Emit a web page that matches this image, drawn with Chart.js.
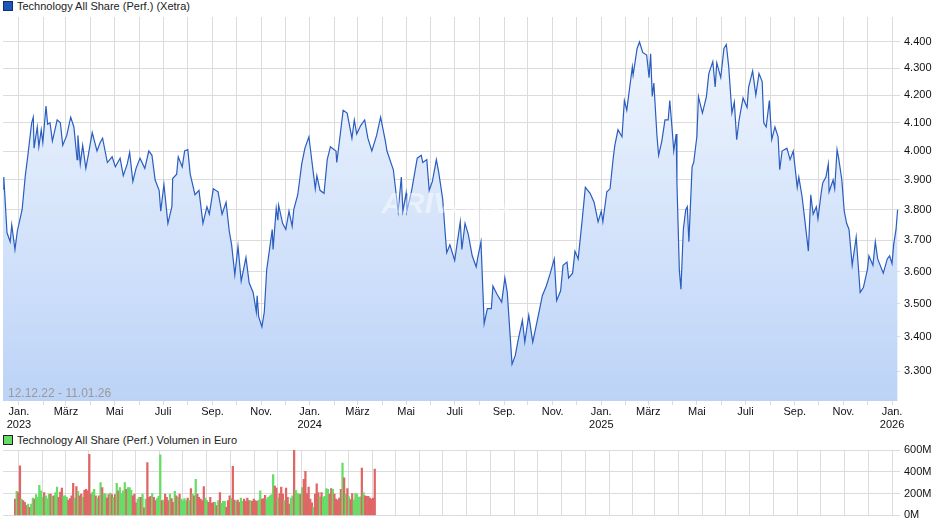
<!DOCTYPE html>
<html>
<head>
<meta charset="utf-8">
<script src="https://cdn.jsdelivr.net/npm/chart.js@4/dist/chart.umd.min.js"></script>
<style>
  body { margin: 0; background: #fff; font-family: "Liberation Sans", Arial, sans-serif; }
  #wrap { position: relative; width: 940px; height: 526px; }
  .leg { position: absolute; left: 3px; font-size: 11px; color: #222; display: flex; align-items: center; }
  .leg i { display: inline-block; width: 8px; height: 8px; margin-right: 4px; }
  canvas { position: absolute; left: 0; }
</style>
</head>
<body>
<div id="wrap">
  <div class="leg" style="top:0px"><i style="background:#1f56b8;border:1px solid #0d2f70"></i>Technology All Share (Perf.) (Xetra)</div>
  <canvas id="kurs" style="top:0" width="940" height="432"></canvas>
  <div class="leg" style="top:434px"><i style="background:#66dd66;border:1px solid #222"></i>Technology All Share (Perf.) Volumen in Euro</div>
  <canvas id="volumen" style="top:432px" width="940" height="94"></canvas>
</div>
<script>
// Tage seit 12.12.2022 und Indexstand
const startDatum = new Date(2022, 11, 12);
const endTag = 1126;
const kursTage = [0,1,5,9,11,15,18,24,28,31,36,38,39,43,45,48,50,54,56,59,62,68,72,75,80,85,89,93,94,97,100,104,107,112,118,122,125,131,137,141,147,151,156,159,163,167,172,178,183,187,191,196,198,202,207,212,213,218,220,225,228,232,235,241,246,251,256,259,264,270,275,280,284,287,291,295,299,305,309,314,318,319,321,325,328,331,338,339,343,345,346,351,355,359,363,365,370,375,379,384,392,394,398,403,407,411,418,419,423,427,432,438,441,444,449,454,458,463,469,474,480,482,490,496,500,502,506,507,513,520,525,527,532,535,539,544,547,552,555,557,561,567,574,576,580,584,589,594,596,600,604,608,613,615,620,626,630,633,639,643,647,652,655,660,665,672,677,682,687,692,695,700,703,708,710,715,718,722,727,731,737,742,747,751,753,758,762,766,768,772,777,780,783,790,791,796,799,803,808,811,813,815,817,821,823,827,831,835,837,840,842,845,846,849,851,854,857,859,861,865,867,871,873,878,883,886,891,894,896,901,905,908,911,915,918,921,924,929,934,936,941,945,949,953,955,958,962,965,969,973,975,978,984,988,992,997,999,1003,1007,1011,1014,1017,1021,1023,1027,1029,1033,1036,1037,1042,1044,1047,1049,1053,1056,1059,1062,1066,1071,1076,1080,1085,1087,1092,1095,1098,1105,1110,1113,1116,1118,1121,1123];
const kursWerte = [3870,3910,3725,3695,3750,3670,3730,3800,3915,3980,4100,4120,4010,4085,4015,4075,4030,4160,4095,4100,4035,4110,4100,4020,4055,4120,4085,3970,4055,3955,4020,3940,3985,4065,4000,4030,4045,3960,3980,3945,3975,3915,3955,3995,3895,3940,3975,3940,4000,3985,3900,3865,3795,3885,3755,3810,3905,3920,3980,3945,4000,4005,3920,3850,3865,3755,3810,3785,3870,3860,3785,3825,3730,3685,3590,3680,3570,3645,3565,3535,3475,3525,3460,3430,3475,3605,3735,3670,3805,3765,3815,3755,3735,3795,3745,3800,3850,3955,4010,4050,3870,3915,3865,3855,3970,4015,4000,3960,4050,4145,4135,4045,4110,4060,4090,4110,4045,4000,4055,4120,4035,4000,3935,3795,3910,3795,3855,3795,3865,3975,3985,3960,3970,3865,3895,3970,3925,3835,3725,3660,3685,3635,3760,3670,3755,3720,3650,3615,3645,3695,3440,3485,3485,3555,3530,3505,3580,3535,3320,3345,3395,3450,3385,3465,3385,3465,3525,3555,3595,3640,3510,3540,3620,3630,3580,3595,3665,3640,3765,3875,3855,3825,3760,3795,3760,3860,3870,3975,4020,4075,4050,4180,4145,4305,4275,4375,4400,4360,4350,4265,4355,4195,4245,4050,3985,4035,4110,4110,4180,4075,4000,4060,3890,3605,3545,3735,3800,3810,3695,3945,3960,4050,4195,4135,4195,4280,4325,4230,4320,4265,4375,4390,4305,4135,4175,4040,4110,4190,4155,4230,4290,4200,4280,4250,4100,4085,4180,4040,4085,4050,3935,4000,4010,3970,4000,3875,3910,3845,3755,3665,3850,3785,3810,3770,3855,3890,3910,3955,3860,3900,3870,4005,3975,3900,3795,3755,3735,3620,3710,3535,3550,3605,3650,3620,3695,3640,3595,3640,3650,3625,3685,3735,3800];
const yTicks = [3300,3400,3500,3600,3700,3800,3900,4000,4100,4200,4300,4400];
const monatsNamen = ["Jan.","","März","","Mai","","Juli","","Sep.","","Nov.",""];

// Volumen in Mio. Euro (g = steigend, r = fallend), bis ca. Mitte 2024
const volumenLetzterTag = 464;
const volumenWerte = [150,220,210,455,150,135,120,90,105,75,105,160,150,190,165,275,225,165,210,180,155,195,195,175,180,210,260,165,215,250,180,180,165,140,155,180,295,160,265,220,180,195,165,230,240,225,560,195,215,240,180,160,180,300,255,200,195,160,190,205,190,165,190,295,225,255,200,225,300,240,255,255,230,180,195,115,150,165,165,195,70,150,485,165,175,200,165,135,155,175,555,135,140,195,165,135,195,155,120,220,180,165,195,150,135,155,135,160,135,245,195,180,330,
  195,165,150,135,265,160,135,120,165,110,120,120,90,135,210,110,130,130,75,135,180,155,450,140,130,140,120,160,130,150,130,160,135,135,130,150,135,130,140,225,150,155,185,150,165,180,190,375,270,250,160,200,260,195,135,250,165,105,160,180,605,230,205,190,195,255,330,405,200,260,150,115,75,195,290,210,170,210,165,175,245,240,195,245,240,195,150,140,160,240,480,345,195,245,170,145,200,140,200,195,165,170,435,210,180,175,175,160,150,160,425];
const volumenRichtung = "rgrrgrrrgrggrgggggrgggrgrggrrrgggrrrrgrgrrgrrrrrggrgrgrggrrgrgrgrggggrgggrrrggrgrgrrrgrrgggrgrrrgrrgrgrggggrgrgrgrr"
  + "rrrggrrrrgrgrgggrrrgrrgrrggrrrrgrrrrggrrrgggggrrgrrrgrrrggrgggrgrrrrrrgrrrgrggggrrgrrrrrgrgrgrrgggggrgr";

const gridFarbe = "#dcdcdc";
const tickFont = { family: "Liberation Sans, Arial, sans-serif", size: 11 };

function monatsTicks() {
  const ticks = [];
  for (let y = 2023; y <= 2026; y++) {
    for (let m = 0; m < 12; m++) {
      const d = new Date(y, m, 1);
      const tag = Math.round((d - startDatum) / 86400000);
      if (tag > endTag) break;
      ticks.push({ value: tag, monat: m, jahr: y });
    }
  }
  return ticks;
}
const alleMonate = monatsTicks();

function xAchse(zeigeLabels) {
  return {
    type: "linear", min: 0, max: endTag,
    afterBuildTicks: s => { s.ticks = alleMonate.map(t => ({ value: t.value })); },
    afterFit: s => { s.height = zeigeLabels ? 31 : 0; },
    grid: { color: gridFarbe, drawTicks: zeigeLabels, tickLength: 4 },
    border: { display: false },
    ticks: {
      display: zeigeLabels, autoSkip: false, maxRotation: 0, color: "#111", font: tickFont, padding: 0,
      callback: (v, i) => {
        const t = alleMonate[i];
        if (!t) return "";
        const name = monatsNamen[t.monat];
        return t.monat === 0 ? [name, String(t.jahr)] : name;
      }
    }
  };
}

const infoPlugin = {
  id: "info",
  afterDatasetsDraw(chart) {
    const { ctx, chartArea } = chart;
    ctx.save();
    ctx.font = "bold italic 30px Liberation Sans, Arial";
    ctx.fillStyle = "rgba(255,255,255,0.45)";
    ctx.textAlign = "center";
    ctx.fillText("ARIVA.DE", 452, 213);
    ctx.font = "12px Liberation Sans, Arial";
    ctx.fillStyle = "#9a9a9a";
    ctx.textAlign = "left";
    ctx.fillText("12.12.22 - 11.01.26", chartArea.left + 5, chartArea.bottom - 4);
    ctx.restore();
  }
};

new Chart(document.getElementById("kurs"), {
  type: "line",
  data: {
    datasets: [{
      data: kursTage.map((t, i) => ({ x: t, y: kursWerte[i] })),
      borderColor: "#2a5dc0",
      borderWidth: 1.2,
      pointRadius: 0,
      tension: 0,
      fill: "start",
      backgroundColor: c => {
        const a = c.chart.chartArea;
        if (!a) return "#dde8fb";
        const g = c.chart.ctx.createLinearGradient(0, a.top, 0, a.bottom);
        g.addColorStop(0, "#f2f7fe");
        g.addColorStop(1, "#bcd3f7");
        return g;
      }
    }]
  },
  options: {
    responsive: false, animation: false,
    layout: { padding: { top: 17, left: 3, right: 0, bottom: 0 } },
    plugins: { legend: { display: false }, tooltip: { enabled: false } },
    scales: {
      x: xAchse(true),
      y: {
        type: "logarithmic", position: "right", min: 3215, max: 4497,
        afterBuildTicks: s => { s.ticks = yTicks.map(v => ({ value: v })); },
        afterFit: s => { s.width = 40; },
        grid: { color: gridFarbe, drawTicks: false },
        border: { display: false },
        ticks: { color: "#111", font: tickFont, padding: 4, callback: v => (v / 1000).toFixed(3) }
      }
    }
  },
  plugins: [infoPlugin]
});

const volSchritt = volumenLetzterTag / (volumenWerte.length - 1);
new Chart(document.getElementById("volumen"), {
  type: "bar",
  data: {
    datasets: [{
      data: volumenWerte.map((v, i) => ({ x: i * volSchritt, y: v })),
      backgroundColor: volumenWerte.map((v, i) => volumenRichtung[i] === "g" ? "#66dd66" : "#e06666"),
      barThickness: 1.6,
      grouped: false
    }]
  },
  options: {
    responsive: false, animation: false,
    layout: { padding: { top: 18, left: 3, right: 0, bottom: 9 } },
    plugins: { legend: { display: false }, tooltip: { enabled: false } },
    scales: {
      x: xAchse(false),
      y: {
        position: "right", min: 0, max: 600,
        afterBuildTicks: s => { s.ticks = [0, 200, 400, 600].map(v => ({ value: v })); },
        afterFit: s => { s.width = 40; },
        grid: { color: gridFarbe, drawTicks: false },
        border: { display: false },
        ticks: { color: "#111", font: tickFont, padding: 4, callback: v => v + "M" }
      }
    }
  }
});
</script>
</body>
</html>
